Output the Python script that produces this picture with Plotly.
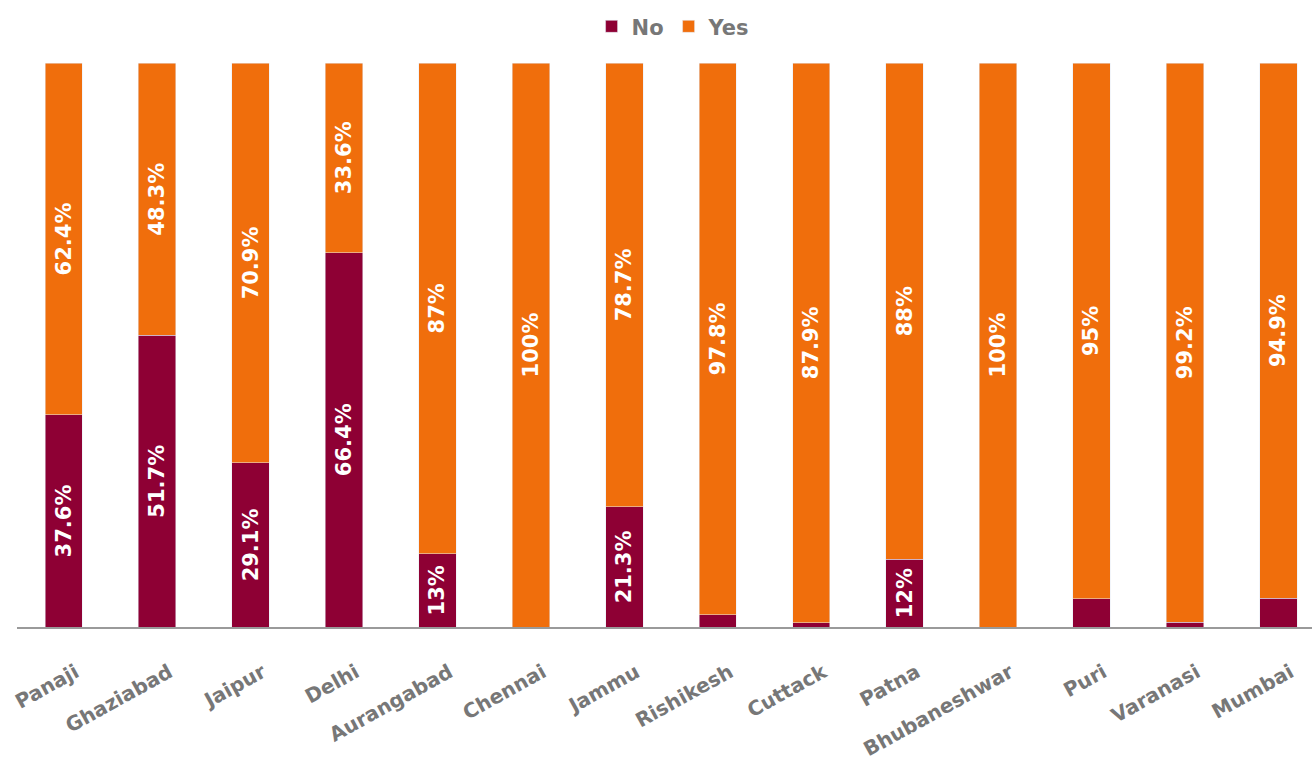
import plotly.graph_objects as go

cities = ["Panaji", "Ghaziabad", "Jaipur", "Delhi", "Aurangabad", "Chennai", "Jammu",
          "Rishikesh", "Cuttack", "Patna", "Bhubaneshwar", "Puri", "Varanasi", "Mumbai"]
no_vals = [37.6, 51.7, 29.1, 66.4, 13, 0, 21.3, 2.2, 0.7, 12, 0, 5, 0.8, 5.1]
yes_vals = [62.4, 48.3, 70.9, 33.6, 87, 100, 78.7, 97.8, 87.9, 88, 100, 95, 99.2, 94.9]

def fmt(v):
    return f"{v:g}%"

no_text = [fmt(v) if v >= 10 else "" for v in no_vals]
yes_text = [fmt(v) if v >= 10 else "" for v in yes_vals]

NO_COLOR = "#8E0034"
YES_COLOR = "#F06E0C"
FONT = "DejaVu Sans"

fig = go.Figure()
fig.add_trace(go.Bar(
    name="No", x=cities, y=no_vals, marker_color=NO_COLOR, width=0.4,
    text=no_text, textposition="inside", textangle=-90, insidetextanchor="middle",
    textfont=dict(family=FONT, size=21, color="white", weight="bold"),
))
fig.add_trace(go.Bar(
    name="Yes", x=cities, y=yes_vals, marker_color=YES_COLOR, width=0.4,
    text=yes_text, textposition="inside", textangle=-90, insidetextanchor="middle",
    textfont=dict(family=FONT, size=21, color="white", weight="bold"),
))

fig.update_layout(
    barmode="stack",
    barnorm="percent",
    width=1312, height=763,
    margin=dict(l=17, r=0, t=63, b=136),
    paper_bgcolor="white", plot_bgcolor="white",
    font=dict(family=FONT, color="#777777"),
    showlegend=True,
    legend=dict(orientation="h", x=0.507, xanchor="center", y=1.028, yanchor="bottom",
                font=dict(size=21, color="#777777", family=FONT, weight="bold"),
                traceorder="normal", itemwidth=30),
    uniformtext=dict(minsize=8, mode="show"),
)
fig.update_xaxes(
    range=[-0.5, 13.36], showgrid=False, showline=True, linecolor="#9a9a9a", linewidth=2,
    tickangle=-29, tickfont=dict(size=20, color="#777777", family=FONT, weight="bold"),
    ticks="", ticklabelstandoff=24, ticklabelshift=12, fixedrange=True,
)
fig.update_yaxes(range=[0, 100], visible=False, showgrid=False, zeroline=False)

fig.write_html("out.html")
